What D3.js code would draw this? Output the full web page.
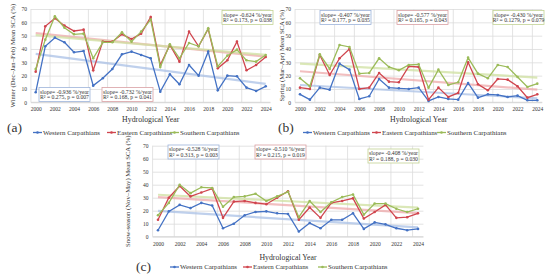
<html>
<head>
  <title> Carpathian snow cover trends </title>
  <script src="https://d3js.org/d3.v7.min.js"></script>
  <style>
    body{ margin: 0; background: #fff; }
    text{ font-family: "Liberation Serif", "DejaVu Serif", serif; fill: #333; }
  </style>
</head>
<body>
  <svg id="chart" width="550" height="280"></svg>
  <script>

    // hydrological years on the category axis
    const years = [2000,2001,2002,2003,2004,2005,2006,2007,2008,2009,2010,2011,2012,
                   2013,2014,2015,2016,2017,2018,2019,2020,2021,2022,2023,2024];
    const yearLabels = [2000,2002,2004,2006,2008,2010,2012,2014,2016,2018,2020,2022,2024];
    const yTicks = [0,10,20,30,40,50,60,70];
    const regions = ["Western Carpathians", "Eastern Carpathians", "Southern Carpathians"];

    // (a) winter DJF mean SCA (%)
    const winterWestern  = [7.5,42,48.5,45,37.5,38.5,12.5,18,25,36,38,35.5,33,8,21,13.5,28,20,38,9,20,19.5,11,8.5,12];
    const winterEastern  = [23,57,63,57.5,53.5,54.5,24,45.5,45.5,51,47.5,51.5,64,28,43,30.5,53,42,55,25.5,31.5,45.5,24,28,34];
    const winterSouthern = [25,47,64.5,56,51,51.5,33,45,45,52.5,45.5,53,62,26.5,43.5,33,44.5,42,55.5,27,35,39.5,31.5,30.5,35.5];
    const winterStats = [["slope= -0.936 %/year", "R\u00b2 = 0.275, p = 0.007"],
                         ["slope= -0.732 %/year", "R\u00b2 = 0.168, p = 0.041"],
                         ["slope= -0.624 %/year", "R\u00b2 = 0.173, p = 0.038"]];

    // (b) spring MA mean SCA (%)
    const springWestern  = [6,2,11,9.5,29,24.5,2.5,4.5,17.5,11,10.5,10,11,1,4,2.5,2,14.5,3.5,6,5.5,4,5,1.5,1.5];
    const springEastern  = [11,10,35.5,20.5,33,40,10,11,22,15.5,15,27,26.5,2,11,4,7,30,13.5,9,17.5,17,12,3.5,6];
    const springSouthern = [18,12,36,25,43,41.5,21.5,22,33,26.5,24,28,28.5,11,24.5,13,15,33.5,21.5,18,28,26.5,19,11.5,14];
    const springStats = [["slope= -0.407 %/year", "R\u00b2 = 0.177, p = 0.035"],
                         ["slope= -0.577 %/year", "R\u00b2 = 0.165, p = 0.043"],
                         ["slope= -0.430 %/year", "R\u00b2 = 0.1279, p = 0.079"]];

    // (c) snow season Nov-May mean SCA (%)
    const seasonWestern  = [5,19.5,24.5,22,26,24,6.5,10,16.5,19,19.5,18,17.5,4,10.5,6.5,13,13,18,6,11,9.5,6.5,5,6];
    const seasonEastern  = [13,30,39,31,34,37,14.5,27,27.5,26,25,30,35,13,22.5,14.5,26,27.5,29.5,14,19,24.5,14.5,15,18];
    const seasonSouthern = [16.5,26,40,33.5,38,37.5,23,30.5,31,33,27.5,31,34.5,15,27.5,19,26.5,30.5,32.5,17,25.5,25.5,21.5,19,21.5];
    const seasonStats = [["slope= -0.528 %/year", "R\u00b2 = 0.313, p = 0.003"],
                         ["slope= -0.510 %/year", "R\u00b2 = 0.215, p = 0.019"],
                         ["slope= -0.408 %/year", "R\u00b2 = 0.188, p = 0.030"]];

    const colors = ["#4472c4", "#d0454e", "#9bbb59"];
    const trendColors = ["#a9c0e6", "#eea9ab", "#cfe0a0"];
    const boxBorders = ["#9db3da", "#d9a0a3", "#c2d394"];

    const svg = d3.select("#chart");

    // least squares fit of one series, evaluated at first and last year
    function fitLine(values) {
        let mx = d3.mean(years), my = d3.mean(values);
        let sxy = d3.sum(years, (x, i) => (x - mx) * (values[i] - my));
        let sxx = d3.sum(years, x => (x - mx) * (x - mx));
        let b = sxy / sxx;
        return [years[0], years[years.length - 1]].map(x => ({x: x, y: my + b * (x - mx)}));
    }

    function drawPanel(p) {
        let g = svg.append("g");
        let xScale = d3.scaleLinear().domain([2000, 2024]).range(p.xRange);
        let yScale = d3.scaleLinear().domain([0, 70]).range(p.yRange);
        let half = (p.xRange[1] - p.xRange[0]) / 24 / 2;
        let left = p.xRange[0] - half, right = p.xRange[1] + half;

        // horizontal gridlines + y labels
        let yAxis = d3.axisLeft(yScale).tickValues(yTicks).tickSize(-(right - left)).tickPadding(4);
        let ya = g.append("g").attr("transform", `translate(${left},0)`).call(yAxis);
        ya.select(".domain").remove();
        ya.selectAll("line").attr("stroke", "#dcdcdc").attr("stroke-width", 0.8);
        ya.selectAll("text").attr("font-size", 5.5).attr("font-family", "Liberation Serif").attr("fill", "#333");

        // vertical gridlines every two categories
        let gridYears = [1999.5,2001.5,2003.5,2005.5,2007.5,2009.5,2011.5,2013.5,2015.5,2017.5,2019.5,2021.5,2023.5];
        g.append("g").selectAll("line").data(gridYears).join("line")
            .attr("x1", d => xScale(d)).attr("x2", d => xScale(d))
            .attr("y1", yScale(70)).attr("y2", yScale(0))
            .attr("stroke", "#dcdcdc").attr("stroke-width", 0.8);

        // x labels
        let xAxis = d3.axisBottom(xScale).tickValues(yearLabels).tickFormat(d3.format("d")).tickSize(0).tickPadding(5);
        let xa = g.append("g").attr("transform", `translate(0,${yScale(0)})`).call(xAxis);
        xa.select(".domain").attr("d", `M${left},0H${right}`).attr("stroke", "#d0d0d0").attr("stroke-width", 0.8);
        xa.selectAll("text").attr("font-size", 5.5).attr("font-family", "Liberation Serif").attr("fill", "#333");

        // trend lines
        let line = d3.line().x(d => xScale(d.x)).y(d => yScale(d.y));
        p.series.forEach((s, i) => {
            g.append("path").attr("d", line(fitLine(s)))
                .attr("fill", "none").attr("stroke", trendColors[i])
                .attr("stroke-width", 2.2).attr("opacity", 0.75);
        });

        // data lines
        let dataLine = d3.line().x((d, j) => xScale(years[j])).y(d => yScale(d));
        p.series.forEach((s, i) => {
            g.append("path").attr("d", dataLine(s))
                .attr("fill", "none").attr("stroke", colors[i]).attr("stroke-width", 1.3);
            g.append("g").selectAll("circle").data(s).join("circle")
                .attr("cx", (d, j) => xScale(years[j])).attr("cy", d => yScale(d))
                .attr("r", 1.3).attr("fill", colors[i]);
        });

        // stat boxes
        p.stats.forEach((st, i) => {
            let b = p.boxes[i];
            g.append("rect").attr("x", b[0]).attr("y", b[1]).attr("width", 51).attr("height", 14)
                .attr("fill", "#fff").attr("stroke", boxBorders[i]).attr("stroke-width", 0.8);
            g.selectAll(null).data(st).join("text")
                .attr("x", b[0] + 25.5).attr("y", (d, k) => b[1] + 6 + k * 5.8)
                .attr("text-anchor", "middle").attr("font-size", 5.7)
                .text(d => d);
        });

        // axis titles
        g.append("text").attr("transform", `translate(${p.yTitleX},${(p.yRange[0] + p.yRange[1]) / 2}) rotate(-90)`)
            .attr("text-anchor", "middle").attr("font-size", 6.7).text(p.yTitle);
        g.append("text").attr("x", (left + right) / 2).attr("y", p.xTitleY)
            .attr("text-anchor", "middle").attr("font-size", 7.8).text("Hydrological Year");

        // legend
        p.legendX.forEach((lx, i) => {
            g.append("line").attr("x1", lx).attr("x2", lx + 9).attr("y1", p.legendY).attr("y2", p.legendY)
                .attr("stroke", colors[i]).attr("stroke-width", 1.3);
            g.append("circle").attr("cx", lx + 4.5).attr("cy", p.legendY).attr("r", 1.3).attr("fill", colors[i]);
            g.append("text").attr("x", lx + 10).attr("y", p.legendY + 2.3)
                .attr("font-size", 6.9).text(regions[i]);
        });

        g.append("text").attr("x", p.tag[0]).attr("y", p.tag[1]).attr("font-size", 13.5).text(p.tagText);
    }

    drawPanel({
        series: [winterWestern, winterEastern, winterSouthern], stats: winterStats,
        xRange: [35.7, 265.7], yRange: [102.3, 9],
        boxes: [[39, 87.5], [102, 87.5], [222, 10.5]],
        yTitle: "Winter (Dec\u2013Jan\u2013Feb) Mean SCA (%)", yTitleX: 15,
        xTitleY: 122, legendY: 132.5, legendX: [33, 107, 170],
        tag: [7, 132], tagText: "(a)"
    });
    drawPanel({
        series: [springWestern, springEastern, springSouthern], stats: springStats,
        xRange: [300, 537.3], yRange: [102.3, 9],
        boxes: [[320, 10.5], [397, 10.5], [493, 10.5]],
        yTitle: "Spring (Mar\u2013Apr) Mean SCA (%)", yTitleX: 284,
        xTitleY: 122, legendY: 132.5, legendX: [303, 372, 437],
        tag: [278, 132], tagText: "(b)"
    });
    drawPanel({
        series: [seasonWestern, seasonEastern, seasonSouthern], stats: seasonStats,
        xRange: [158, 418], yRange: [236.7, 145.7],
        boxes: [[168, 145], [255, 145], [368, 149]],
        yTitle: "Snow-season (Nov\u2013May) Mean SCA (%)", yTitleX: 130,
        xTitleY: 259.5, legendY: 267, legendX: [170, 243, 318],
        tag: [136, 271], tagText: "(c)"
    });

  </script>
</body>
</html>
